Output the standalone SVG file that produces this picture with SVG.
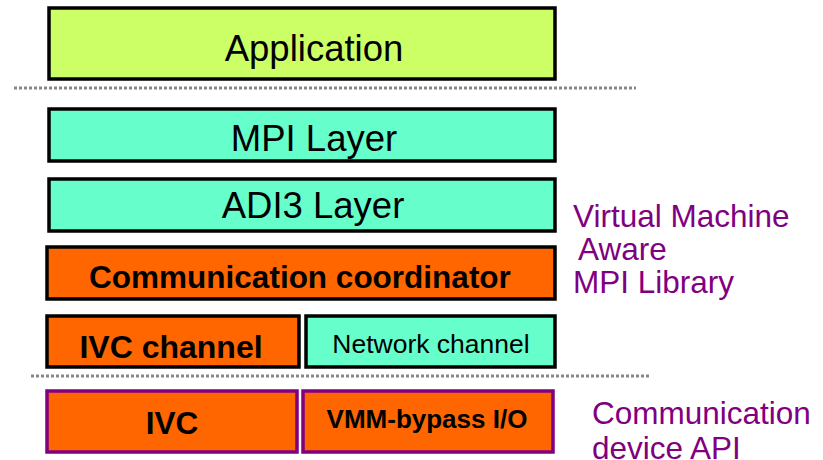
<svg xmlns="http://www.w3.org/2000/svg" width="823" height="460" viewBox="0 0 823 460">
<style>
.box{stroke:#000;stroke-width:3.5}
.pbox{stroke:#800080;stroke-width:3.5}
.app{fill:#CCFF66}
.teal{fill:#66FFCC}
.org{fill:#FF6600}
.t{font-family:"Liberation Sans",Arial,sans-serif;text-anchor:middle;fill:#000}
.b{font-weight:bold}
.lab{font-family:"Liberation Sans",Arial,sans-serif;fill:#800080;font-size:31.5px}
.dot{stroke:#888;stroke-width:3;stroke-dasharray:3 2;fill:none}
</style>
<g id="application"><rect class="box app" x="49" y="8" width="506" height="71"/><text class="t" x="314" y="61" font-size="36.5">Application</text></g>
<g id="separators"><line class="dot" x1="14" y1="88" x2="636" y2="88"/><line class="dot" x1="31" y1="376" x2="651" y2="376"/></g>
<g id="mpi"><rect class="box teal" x="49" y="109" width="506" height="52"/><text class="t" x="314" y="151" font-size="36.5">MPI Layer</text></g>
<g id="adi3"><rect class="box teal" x="49" y="179" width="506" height="52"/><text class="t" x="313" y="218" font-size="36.5">ADI3 Layer</text></g>
<g id="coordinator"><rect class="box org" x="47" y="247" width="508" height="52"/><text class="t b" x="300" y="288" font-size="31.5">Communication coordinator</text></g>
<g id="ivc-channel"><rect class="box org" x="47" y="316" width="252" height="51"/><text class="t b" x="171" y="358" font-size="32">IVC channel</text></g>
<g id="network-channel"><rect class="box teal" x="306" y="316" width="249" height="51"/><text class="t" x="431" y="353" font-size="26.5">Network channel</text></g>
<g id="ivc"><rect class="pbox org" x="47" y="391" width="250" height="61"/><text class="t b" x="172" y="434" font-size="31.5">IVC</text></g>
<g id="vmm"><rect class="pbox org" x="303" y="391" width="250" height="61"/><text class="t b" x="427" y="428" font-size="26">VMM-bypass I/O</text></g>
<g id="vm-label"><text class="lab" x="573" y="227">Virtual Machine</text><text class="lab" x="578" y="260">Aware</text><text class="lab" x="573" y="293">MPI Library</text></g>
<g id="api-label"><text class="lab" x="592" y="424">Communication</text><text class="lab" x="592" y="459">device API</text></g>
</svg>
